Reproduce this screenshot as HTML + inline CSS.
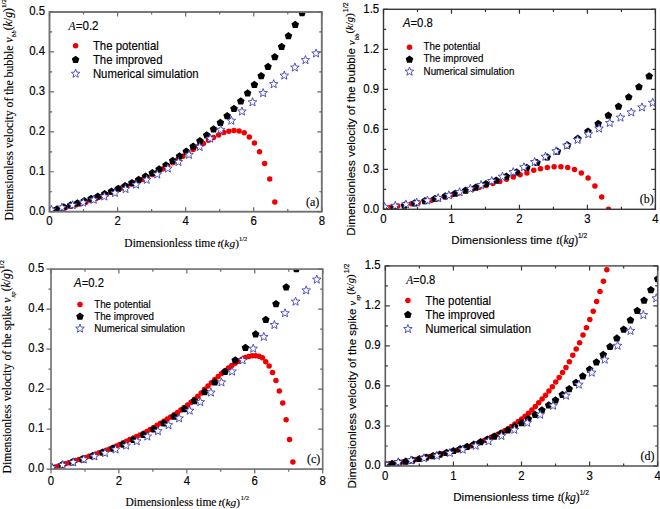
<!DOCTYPE html>
<html><head><meta charset="utf-8"><style>
html,body{margin:0;padding:0;background:#fff;width:660px;height:509px;overflow:hidden}
svg{display:block}
text{stroke:#000;stroke-width:0.15px;paint-order:stroke}
</style></head><body>
<svg width="660" height="509" viewBox="0 0 660 509">
<rect width="660" height="509" fill="#fff"/>
<clipPath id="clipa"><rect x="49.50" y="12.00" width="272.30" height="199.70"/></clipPath>
<g clip-path="url(#clipa)">
<circle cx="50.18" cy="210.40" r="2.75" fill="#f00000"/>
<circle cx="55.29" cy="209.59" r="2.75" fill="#f00000"/>
<circle cx="60.39" cy="208.63" r="2.75" fill="#f00000"/>
<circle cx="65.50" cy="207.54" r="2.75" fill="#f00000"/>
<circle cx="70.60" cy="206.35" r="2.75" fill="#f00000"/>
<circle cx="75.71" cy="205.05" r="2.75" fill="#f00000"/>
<circle cx="80.81" cy="203.68" r="2.75" fill="#f00000"/>
<circle cx="85.92" cy="202.21" r="2.75" fill="#f00000"/>
<circle cx="91.03" cy="200.52" r="2.75" fill="#f00000"/>
<circle cx="96.13" cy="198.62" r="2.75" fill="#f00000"/>
<circle cx="101.24" cy="196.58" r="2.75" fill="#f00000"/>
<circle cx="106.34" cy="194.45" r="2.75" fill="#f00000"/>
<circle cx="111.45" cy="192.29" r="2.75" fill="#f00000"/>
<circle cx="116.55" cy="190.15" r="2.75" fill="#f00000"/>
<circle cx="121.66" cy="188.07" r="2.75" fill="#f00000"/>
<circle cx="126.77" cy="185.99" r="2.75" fill="#f00000"/>
<circle cx="131.87" cy="183.89" r="2.75" fill="#f00000"/>
<circle cx="136.98" cy="181.73" r="2.75" fill="#f00000"/>
<circle cx="142.08" cy="179.49" r="2.75" fill="#f00000"/>
<circle cx="147.19" cy="177.13" r="2.75" fill="#f00000"/>
<circle cx="152.29" cy="174.61" r="2.75" fill="#f00000"/>
<circle cx="157.40" cy="171.88" r="2.75" fill="#f00000"/>
<circle cx="162.50" cy="168.95" r="2.75" fill="#f00000"/>
<circle cx="167.61" cy="165.86" r="2.75" fill="#f00000"/>
<circle cx="172.72" cy="162.67" r="2.75" fill="#f00000"/>
<circle cx="177.82" cy="159.43" r="2.75" fill="#f00000"/>
<circle cx="182.93" cy="156.18" r="2.75" fill="#f00000"/>
<circle cx="188.03" cy="152.82" r="2.75" fill="#f00000"/>
<circle cx="193.14" cy="149.53" r="2.75" fill="#f00000"/>
<circle cx="198.24" cy="146.43" r="2.75" fill="#f00000"/>
<circle cx="203.35" cy="143.39" r="2.75" fill="#f00000"/>
<circle cx="208.46" cy="140.29" r="2.75" fill="#f00000"/>
<circle cx="213.56" cy="137.41" r="2.75" fill="#f00000"/>
<circle cx="218.67" cy="135.02" r="2.75" fill="#f00000"/>
<circle cx="223.77" cy="132.62" r="2.75" fill="#f00000"/>
<circle cx="228.88" cy="131.22" r="2.75" fill="#f00000"/>
<circle cx="233.98" cy="130.42" r="2.75" fill="#f00000"/>
<circle cx="239.09" cy="131.07" r="2.75" fill="#f00000"/>
<circle cx="244.19" cy="132.85" r="2.75" fill="#f00000"/>
<circle cx="249.30" cy="137.01" r="2.75" fill="#f00000"/>
<circle cx="254.41" cy="143.08" r="2.75" fill="#f00000"/>
<circle cx="259.51" cy="151.79" r="2.75" fill="#f00000"/>
<circle cx="264.62" cy="163.53" r="2.75" fill="#f00000"/>
<circle cx="269.72" cy="178.91" r="2.75" fill="#f00000"/>
<circle cx="274.83" cy="202.11" r="2.75" fill="#f00000"/>
<polygon points="50.18,207.36 53.98,210.12 52.53,214.60 47.83,214.60 46.38,210.12" fill="#000"/>
<polygon points="56.99,205.36 60.79,208.13 59.34,212.60 54.64,212.60 53.18,208.13" fill="#000"/>
<polygon points="63.80,203.35 67.60,206.11 66.15,210.58 61.44,210.58 59.99,206.11" fill="#000"/>
<polygon points="70.60,201.30 74.41,204.06 72.95,208.53 68.25,208.53 66.80,204.06" fill="#000"/>
<polygon points="77.41,199.20 81.21,201.97 79.76,206.44 75.06,206.44 73.61,201.97" fill="#000"/>
<polygon points="84.22,197.05 88.02,199.81 86.57,204.28 81.87,204.28 80.41,199.81" fill="#000"/>
<polygon points="91.03,194.82 94.83,197.58 93.38,202.05 88.67,202.05 87.22,197.58" fill="#000"/>
<polygon points="97.83,192.50 101.64,195.26 100.18,199.73 95.48,199.73 94.03,195.26" fill="#000"/>
<polygon points="104.64,190.07 108.44,192.83 106.99,197.30 102.29,197.30 100.84,192.83" fill="#000"/>
<polygon points="111.45,187.52 115.25,190.29 113.80,194.76 109.10,194.76 107.64,190.29" fill="#000"/>
<polygon points="118.26,184.84 122.06,187.61 120.61,192.08 115.90,192.08 114.45,187.61" fill="#000"/>
<polygon points="125.06,182.02 128.87,184.78 127.41,189.25 122.71,189.25 121.26,184.78" fill="#000"/>
<polygon points="131.87,179.03 135.67,181.79 134.22,186.26 129.52,186.26 128.07,181.79" fill="#000"/>
<polygon points="138.68,175.86 142.48,178.62 141.03,183.10 136.33,183.10 134.87,178.62" fill="#000"/>
<polygon points="145.49,172.50 149.29,175.26 147.84,179.74 143.13,179.74 141.68,175.26" fill="#000"/>
<polygon points="152.29,168.94 156.10,171.70 154.64,176.17 149.94,176.17 148.49,171.70" fill="#000"/>
<polygon points="159.10,165.15 162.90,167.91 161.45,172.39 156.75,172.39 155.30,167.91" fill="#000"/>
<polygon points="165.91,161.13 169.71,163.89 168.26,168.36 163.56,168.36 162.10,163.89" fill="#000"/>
<polygon points="172.72,156.86 176.52,159.62 175.07,164.09 170.36,164.09 168.91,159.62" fill="#000"/>
<polygon points="179.52,152.32 183.33,155.09 181.87,159.56 177.17,159.56 175.72,155.09" fill="#000"/>
<polygon points="186.33,147.51 190.13,150.27 188.68,154.74 183.98,154.74 182.53,150.27" fill="#000"/>
<polygon points="193.14,142.40 196.94,145.16 195.49,149.64 190.79,149.64 189.33,145.16" fill="#000"/>
<polygon points="199.95,136.98 203.75,139.75 202.30,144.22 197.59,144.22 196.14,139.75" fill="#000"/>
<polygon points="206.75,131.25 210.56,134.01 209.10,138.48 204.40,138.48 202.95,134.01" fill="#000"/>
<polygon points="213.56,125.17 217.36,127.94 215.91,132.41 211.21,132.41 209.76,127.94" fill="#000"/>
<polygon points="220.37,118.75 224.17,121.51 222.72,125.98 218.02,125.98 216.56,121.51" fill="#000"/>
<polygon points="227.18,111.96 230.98,114.72 229.53,119.19 224.82,119.19 223.37,114.72" fill="#000"/>
<polygon points="233.98,104.78 237.79,107.55 236.33,112.02 231.63,112.02 230.18,107.55" fill="#000"/>
<polygon points="240.79,97.22 244.59,99.98 243.14,104.45 238.44,104.45 236.99,99.98" fill="#000"/>
<polygon points="247.60,89.24 251.40,92.00 249.95,96.48 245.25,96.48 243.79,92.00" fill="#000"/>
<polygon points="254.41,80.84 258.21,83.60 256.76,88.08 252.05,88.08 250.60,83.60" fill="#000"/>
<polygon points="261.21,72.00 265.02,74.77 263.56,79.24 258.86,79.24 257.41,74.77" fill="#000"/>
<polygon points="268.02,62.71 271.82,65.47 270.37,69.95 265.67,69.95 264.22,65.47" fill="#000"/>
<polygon points="274.83,52.95 278.63,55.72 277.18,60.19 272.48,60.19 271.02,55.72" fill="#000"/>
<polygon points="281.64,42.71 285.44,45.47 283.99,49.95 279.28,49.95 277.83,45.47" fill="#000"/>
<polygon points="288.44,31.97 292.25,34.74 290.79,39.21 286.09,39.21 284.64,34.74" fill="#000"/>
<polygon points="295.25,20.73 299.05,23.49 297.60,27.96 292.90,27.96 291.45,23.49" fill="#000"/>
<polygon points="302.06,8.95 305.86,11.72 304.41,16.19 299.71,16.19 298.25,11.72" fill="#000"/>
<polygon points="51.41,205.28 52.55,208.20 55.69,208.39 53.26,210.38 54.05,213.42 51.41,211.73 48.76,213.42 49.55,210.38 47.13,208.39 50.26,208.20" fill="#fff" stroke="#3838b8" stroke-width="0.85" stroke-linejoin="miter"/>
<polygon points="61.99,203.09 63.14,206.01 66.27,206.20 63.85,208.19 64.64,211.23 61.99,209.54 59.35,211.23 60.14,208.19 57.71,206.20 60.85,206.01" fill="#fff" stroke="#3838b8" stroke-width="0.85" stroke-linejoin="miter"/>
<polygon points="72.58,200.72 73.72,203.64 76.86,203.82 74.43,205.82 75.22,208.86 72.58,207.17 69.93,208.86 70.72,205.82 68.30,203.82 71.43,203.64" fill="#fff" stroke="#3838b8" stroke-width="0.85" stroke-linejoin="miter"/>
<polygon points="83.16,198.11 84.31,201.03 87.44,201.22 85.02,203.21 85.81,206.25 83.16,204.56 80.52,206.25 81.31,203.21 78.88,201.22 82.02,201.03" fill="#fff" stroke="#3838b8" stroke-width="0.85" stroke-linejoin="miter"/>
<polygon points="93.75,195.23 94.89,198.15 98.03,198.34 95.60,200.33 96.39,203.37 93.75,201.68 91.10,203.37 91.89,200.33 89.47,198.34 92.60,198.15" fill="#fff" stroke="#3838b8" stroke-width="0.85" stroke-linejoin="miter"/>
<polygon points="104.33,192.03 105.48,194.96 108.61,195.14 106.19,197.14 106.98,200.17 104.33,198.48 101.69,200.17 102.48,197.14 100.05,195.14 103.19,194.96" fill="#fff" stroke="#3838b8" stroke-width="0.85" stroke-linejoin="miter"/>
<polygon points="114.92,188.49 116.07,191.41 119.20,191.59 116.77,193.59 117.57,196.63 114.92,194.94 112.28,196.63 113.07,193.59 110.64,191.59 113.77,191.41" fill="#fff" stroke="#3838b8" stroke-width="0.85" stroke-linejoin="miter"/>
<polygon points="125.51,184.54 126.65,187.47 129.79,187.65 127.36,189.65 128.15,192.68 125.51,190.99 122.86,192.68 123.65,189.65 121.23,187.65 124.36,187.47" fill="#fff" stroke="#3838b8" stroke-width="0.85" stroke-linejoin="miter"/>
<polygon points="136.09,180.16 137.24,183.09 140.37,183.27 137.95,185.27 138.74,188.30 136.09,186.61 133.45,188.30 134.24,185.27 131.81,183.27 134.95,183.09" fill="#fff" stroke="#3838b8" stroke-width="0.85" stroke-linejoin="miter"/>
<polygon points="146.68,175.31 147.82,178.23 150.96,178.42 148.53,180.41 149.32,183.45 146.68,181.76 144.03,183.45 144.82,180.41 142.40,178.42 145.53,178.23" fill="#fff" stroke="#3838b8" stroke-width="0.85" stroke-linejoin="miter"/>
<polygon points="157.26,169.94 158.41,172.86 161.54,173.05 159.12,175.04 159.91,178.08 157.26,176.39 154.62,178.08 155.41,175.04 152.98,173.05 156.12,172.86" fill="#fff" stroke="#3838b8" stroke-width="0.85" stroke-linejoin="miter"/>
<polygon points="167.85,164.00 168.99,166.93 172.13,167.11 169.70,169.11 170.49,172.15 167.85,170.45 165.20,172.15 165.99,169.11 163.57,167.11 166.70,166.93" fill="#fff" stroke="#3838b8" stroke-width="0.85" stroke-linejoin="miter"/>
<polygon points="178.43,157.47 179.58,160.40 182.71,160.58 180.29,162.58 181.08,165.61 178.43,163.92 175.79,165.61 176.58,162.58 174.15,160.58 177.29,160.40" fill="#fff" stroke="#3838b8" stroke-width="0.85" stroke-linejoin="miter"/>
<polygon points="189.02,150.30 190.17,153.22 193.30,153.41 190.87,155.40 191.66,158.44 189.02,156.75 186.37,158.44 187.17,155.40 184.74,153.41 187.87,153.22" fill="#fff" stroke="#3838b8" stroke-width="0.85" stroke-linejoin="miter"/>
<polygon points="199.61,142.48 200.75,145.40 203.89,145.59 201.46,147.58 202.25,150.62 199.61,148.93 196.96,150.62 197.75,147.58 195.33,145.59 198.46,145.40" fill="#fff" stroke="#3838b8" stroke-width="0.85" stroke-linejoin="miter"/>
<polygon points="210.19,134.10 211.34,137.02 214.47,137.21 212.05,139.20 212.84,142.24 210.19,140.55 207.55,142.24 208.34,139.20 205.91,137.21 209.04,137.02" fill="#fff" stroke="#3838b8" stroke-width="0.85" stroke-linejoin="miter"/>
<polygon points="220.78,125.31 221.92,128.23 225.06,128.42 222.63,130.41 223.42,133.45 220.78,131.76 218.13,133.45 218.92,130.41 216.50,128.42 219.63,128.23" fill="#fff" stroke="#3838b8" stroke-width="0.85" stroke-linejoin="miter"/>
<polygon points="231.36,116.22 232.51,119.15 235.64,119.33 233.22,121.33 234.01,124.36 231.36,122.67 228.72,124.36 229.51,121.33 227.08,119.33 230.22,119.15" fill="#fff" stroke="#3838b8" stroke-width="0.85" stroke-linejoin="miter"/>
<polygon points="241.95,106.98 243.09,109.91 246.23,110.09 243.80,112.09 244.59,115.13 241.95,113.43 239.30,115.13 240.09,112.09 237.67,110.09 240.80,109.91" fill="#fff" stroke="#3838b8" stroke-width="0.85" stroke-linejoin="miter"/>
<polygon points="252.53,97.72 253.68,100.64 256.81,100.83 254.39,102.82 255.18,105.86 252.53,104.17 249.89,105.86 250.68,102.82 248.25,100.83 251.39,100.64" fill="#fff" stroke="#3838b8" stroke-width="0.85" stroke-linejoin="miter"/>
<polygon points="263.12,88.56 264.27,91.48 267.40,91.67 264.97,93.66 265.76,96.70 263.12,95.01 260.47,96.70 261.26,93.66 258.84,91.67 261.97,91.48" fill="#fff" stroke="#3838b8" stroke-width="0.85" stroke-linejoin="miter"/>
<polygon points="273.71,79.64 274.85,82.56 277.98,82.75 275.56,84.74 276.35,87.78 273.71,86.09 271.06,87.78 271.85,84.74 269.43,82.75 272.56,82.56" fill="#fff" stroke="#3838b8" stroke-width="0.85" stroke-linejoin="miter"/>
<polygon points="284.29,71.08 285.44,74.01 288.57,74.19 286.15,76.19 286.94,79.22 284.29,77.53 281.65,79.22 282.44,76.19 280.01,74.19 283.14,74.01" fill="#fff" stroke="#3838b8" stroke-width="0.85" stroke-linejoin="miter"/>
<polygon points="294.88,63.03 296.02,65.95 299.16,66.14 296.73,68.13 297.52,71.17 294.88,69.48 292.23,71.17 293.02,68.13 290.60,66.14 293.73,65.95" fill="#fff" stroke="#3838b8" stroke-width="0.85" stroke-linejoin="miter"/>
<polygon points="305.46,55.60 306.61,58.53 309.74,58.71 307.32,60.71 308.11,63.75 305.46,62.05 302.82,63.75 303.61,60.71 301.18,58.71 304.32,58.53" fill="#fff" stroke="#3838b8" stroke-width="0.85" stroke-linejoin="miter"/>
<polygon points="316.05,48.94 317.19,51.87 320.33,52.05 317.90,54.05 318.69,57.08 316.05,55.39 313.40,57.08 314.19,54.05 311.77,52.05 314.90,51.87" fill="#fff" stroke="#3838b8" stroke-width="0.85" stroke-linejoin="miter"/>
</g>
<rect x="49.50" y="12.00" width="272.30" height="199.70" fill="none" stroke="#727272" stroke-width="1.90"/>
<path d="M49.50 211.70L49.50 207.20 M49.50 12.00L49.50 16.50 M83.54 211.70L83.54 209.10 M83.54 12.00L83.54 14.60 M117.58 211.70L117.58 207.20 M117.58 12.00L117.58 16.50 M151.61 211.70L151.61 209.10 M151.61 12.00L151.61 14.60 M185.65 211.70L185.65 207.20 M185.65 12.00L185.65 16.50 M219.69 211.70L219.69 209.10 M219.69 12.00L219.69 14.60 M253.73 211.70L253.73 207.20 M253.73 12.00L253.73 16.50 M287.76 211.70L287.76 209.10 M287.76 12.00L287.76 14.60 M321.80 211.70L321.80 207.20 M321.80 12.00L321.80 16.50 M49.50 211.70L54.00 211.70 M321.80 211.70L317.30 211.70 M49.50 191.73L52.10 191.73 M321.80 191.73L319.20 191.73 M49.50 171.76L54.00 171.76 M321.80 171.76L317.30 171.76 M49.50 151.79L52.10 151.79 M321.80 151.79L319.20 151.79 M49.50 131.82L54.00 131.82 M321.80 131.82L317.30 131.82 M49.50 111.85L52.10 111.85 M321.80 111.85L319.20 111.85 M49.50 91.88L54.00 91.88 M321.80 91.88L317.30 91.88 M49.50 71.91L52.10 71.91 M321.80 71.91L319.20 71.91 M49.50 51.94L54.00 51.94 M321.80 51.94L317.30 51.94 M49.50 31.97L52.10 31.97 M321.80 31.97L319.20 31.97 M49.50 12.00L54.00 12.00 M321.80 12.00L317.30 12.00" stroke="#686868" stroke-width="1.20" fill="none"/>
<clipPath id="clipb"><rect x="383.50" y="9.30" width="271.90" height="200.00"/></clipPath>
<g clip-path="url(#clipb)">
<circle cx="384.18" cy="209.11" r="2.75" fill="#f00000"/>
<circle cx="390.98" cy="207.35" r="2.75" fill="#f00000"/>
<circle cx="397.77" cy="206.03" r="2.75" fill="#f00000"/>
<circle cx="404.57" cy="204.87" r="2.75" fill="#f00000"/>
<circle cx="411.37" cy="203.74" r="2.75" fill="#f00000"/>
<circle cx="418.17" cy="202.68" r="2.75" fill="#f00000"/>
<circle cx="424.96" cy="201.62" r="2.75" fill="#f00000"/>
<circle cx="431.76" cy="200.36" r="2.75" fill="#f00000"/>
<circle cx="438.56" cy="198.68" r="2.75" fill="#f00000"/>
<circle cx="445.36" cy="196.72" r="2.75" fill="#f00000"/>
<circle cx="452.15" cy="194.74" r="2.75" fill="#f00000"/>
<circle cx="458.95" cy="192.90" r="2.75" fill="#f00000"/>
<circle cx="465.75" cy="191.07" r="2.75" fill="#f00000"/>
<circle cx="472.55" cy="189.22" r="2.75" fill="#f00000"/>
<circle cx="479.34" cy="187.37" r="2.75" fill="#f00000"/>
<circle cx="486.14" cy="185.52" r="2.75" fill="#f00000"/>
<circle cx="492.94" cy="183.61" r="2.75" fill="#f00000"/>
<circle cx="499.74" cy="181.57" r="2.75" fill="#f00000"/>
<circle cx="506.53" cy="179.24" r="2.75" fill="#f00000"/>
<circle cx="513.33" cy="176.88" r="2.75" fill="#f00000"/>
<circle cx="520.13" cy="174.77" r="2.75" fill="#f00000"/>
<circle cx="526.93" cy="172.97" r="2.75" fill="#f00000"/>
<circle cx="533.72" cy="170.37" r="2.75" fill="#f00000"/>
<circle cx="540.52" cy="168.77" r="2.75" fill="#f00000"/>
<circle cx="547.32" cy="167.48" r="2.75" fill="#f00000"/>
<circle cx="554.12" cy="166.77" r="2.75" fill="#f00000"/>
<circle cx="560.91" cy="166.84" r="2.75" fill="#f00000"/>
<circle cx="567.71" cy="167.53" r="2.75" fill="#f00000"/>
<circle cx="574.51" cy="169.50" r="2.75" fill="#f00000"/>
<circle cx="581.31" cy="172.93" r="2.75" fill="#f00000"/>
<circle cx="588.10" cy="178.11" r="2.75" fill="#f00000"/>
<circle cx="594.90" cy="185.90" r="2.75" fill="#f00000"/>
<circle cx="601.70" cy="197.00" r="2.75" fill="#f00000"/>
<circle cx="608.50" cy="209.30" r="2.75" fill="#f00000"/>
<polygon points="384.04,205.62 387.85,208.38 386.39,212.85 381.69,212.85 380.24,208.38" fill="#000"/>
<polygon points="394.24,203.57 398.04,206.33 396.59,210.80 391.89,210.80 390.44,206.33" fill="#000"/>
<polygon points="404.44,201.47 408.24,204.24 406.79,208.71 402.09,208.71 400.63,204.24" fill="#000"/>
<polygon points="414.63,199.31 418.44,202.07 416.98,206.54 412.28,206.54 410.83,202.07" fill="#000"/>
<polygon points="424.83,197.05 428.63,199.81 427.18,204.28 422.48,204.28 421.02,199.81" fill="#000"/>
<polygon points="435.03,194.67 438.83,197.43 437.38,201.90 432.67,201.90 431.22,197.43" fill="#000"/>
<polygon points="445.22,192.14 449.03,194.90 447.57,199.38 442.87,199.38 441.42,194.90" fill="#000"/>
<polygon points="455.42,189.44 459.22,192.21 457.77,196.68 453.07,196.68 451.61,192.21" fill="#000"/>
<polygon points="465.61,186.55 469.42,189.31 467.96,193.79 463.26,193.79 461.81,189.31" fill="#000"/>
<polygon points="475.81,183.44 479.61,186.20 478.16,190.67 473.46,190.67 472.01,186.20" fill="#000"/>
<polygon points="486.01,180.08 489.81,182.84 488.36,187.31 483.66,187.31 482.20,182.84" fill="#000"/>
<polygon points="496.20,176.45 500.01,179.21 498.55,183.68 493.85,183.68 492.40,179.21" fill="#000"/>
<polygon points="506.40,172.52 510.20,175.28 508.75,179.75 504.05,179.75 502.59,175.28" fill="#000"/>
<polygon points="516.60,168.27 520.40,171.03 518.95,175.51 514.24,175.51 512.79,171.03" fill="#000"/>
<polygon points="526.79,163.67 530.60,166.44 529.14,170.91 524.44,170.91 522.99,166.44" fill="#000"/>
<polygon points="536.99,158.71 540.79,161.47 539.34,165.94 534.64,165.94 533.18,161.47" fill="#000"/>
<polygon points="547.18,153.34 550.99,156.11 549.53,160.58 544.83,160.58 543.38,156.11" fill="#000"/>
<polygon points="557.38,147.56 561.18,150.32 559.73,154.79 555.03,154.79 553.58,150.32" fill="#000"/>
<polygon points="567.58,141.32 571.38,144.09 569.93,148.56 565.23,148.56 563.77,144.09" fill="#000"/>
<polygon points="577.77,134.62 581.58,137.38 580.12,141.86 575.42,141.86 573.97,137.38" fill="#000"/>
<polygon points="587.97,127.42 591.77,130.18 590.32,134.65 585.62,134.65 584.16,130.18" fill="#000"/>
<polygon points="598.17,119.69 601.97,122.46 600.52,126.93 595.81,126.93 594.36,122.46" fill="#000"/>
<polygon points="608.36,111.42 612.17,114.18 610.71,118.66 606.01,118.66 604.56,114.18" fill="#000"/>
<polygon points="618.56,102.57 622.36,105.34 620.91,109.81 616.21,109.81 614.75,105.34" fill="#000"/>
<polygon points="628.75,93.13 632.56,95.90 631.10,100.37 626.40,100.37 624.95,95.90" fill="#000"/>
<polygon points="638.95,83.07 642.75,85.83 641.30,90.30 636.60,90.30 635.15,85.83" fill="#000"/>
<polygon points="649.15,72.35 652.95,75.12 651.50,79.59 646.80,79.59 645.34,75.12" fill="#000"/>
<polygon points="384.52,202.32 385.67,205.24 388.80,205.43 386.37,207.42 387.16,210.46 384.52,208.77 381.87,210.46 382.67,207.42 380.24,205.43 383.37,205.24" fill="#fff" stroke="#3838b8" stroke-width="0.85" stroke-linejoin="miter"/>
<polygon points="395.25,201.28 396.39,204.21 399.53,204.39 397.10,206.39 397.89,209.42 395.25,207.73 392.60,209.42 393.39,206.39 390.97,204.39 394.10,204.21" fill="#fff" stroke="#3838b8" stroke-width="0.85" stroke-linejoin="miter"/>
<polygon points="405.97,199.89 407.12,202.81 410.25,202.99 407.83,204.99 408.62,208.03 405.97,206.34 403.33,208.03 404.12,204.99 401.69,202.99 404.83,202.81" fill="#fff" stroke="#3838b8" stroke-width="0.85" stroke-linejoin="miter"/>
<polygon points="416.70,198.13 417.85,201.05 420.98,201.24 418.55,203.23 419.34,206.27 416.70,204.58 414.05,206.27 414.84,203.23 412.42,201.24 415.55,201.05" fill="#fff" stroke="#3838b8" stroke-width="0.85" stroke-linejoin="miter"/>
<polygon points="427.43,196.02 428.57,198.95 431.71,199.13 429.28,201.13 430.07,204.16 427.43,202.47 424.78,204.16 425.57,201.13 423.15,199.13 426.28,198.95" fill="#fff" stroke="#3838b8" stroke-width="0.85" stroke-linejoin="miter"/>
<polygon points="438.15,193.58 439.30,196.50 442.43,196.69 440.01,198.68 440.80,201.72 438.15,200.03 435.51,201.72 436.30,198.68 433.87,196.69 437.01,196.50" fill="#fff" stroke="#3838b8" stroke-width="0.85" stroke-linejoin="miter"/>
<polygon points="448.88,190.80 450.02,193.72 453.16,193.90 450.73,195.90 451.52,198.94 448.88,197.25 446.23,198.94 447.02,195.90 444.60,193.90 447.73,193.72" fill="#fff" stroke="#3838b8" stroke-width="0.85" stroke-linejoin="miter"/>
<polygon points="459.60,187.69 460.75,190.61 463.88,190.80 461.46,192.79 462.25,195.83 459.60,194.14 456.96,195.83 457.75,192.79 455.33,190.80 458.46,190.61" fill="#fff" stroke="#3838b8" stroke-width="0.85" stroke-linejoin="miter"/>
<polygon points="470.33,184.27 471.48,187.19 474.61,187.38 472.19,189.37 472.98,192.41 470.33,190.72 467.69,192.41 468.48,189.37 466.05,187.38 469.19,187.19" fill="#fff" stroke="#3838b8" stroke-width="0.85" stroke-linejoin="miter"/>
<polygon points="481.06,180.54 482.20,183.46 485.34,183.65 482.91,185.64 483.70,188.68 481.06,186.99 478.41,188.68 479.20,185.64 476.78,183.65 479.91,183.46" fill="#fff" stroke="#3838b8" stroke-width="0.85" stroke-linejoin="miter"/>
<polygon points="491.78,176.51 492.93,179.43 496.06,179.62 493.64,181.61 494.43,184.65 491.78,182.96 489.14,184.65 489.93,181.61 487.50,179.62 490.64,179.43" fill="#fff" stroke="#3838b8" stroke-width="0.85" stroke-linejoin="miter"/>
<polygon points="502.51,172.19 503.66,175.11 506.79,175.29 504.37,177.29 505.16,180.33 502.51,178.64 499.87,180.33 500.66,177.29 498.23,175.29 501.36,175.11" fill="#fff" stroke="#3838b8" stroke-width="0.85" stroke-linejoin="miter"/>
<polygon points="513.24,167.58 514.38,170.50 517.52,170.69 515.09,172.68 515.88,175.72 513.24,174.03 510.59,175.72 511.38,172.68 508.96,170.69 512.09,170.50" fill="#fff" stroke="#3838b8" stroke-width="0.85" stroke-linejoin="miter"/>
<polygon points="523.96,162.70 525.11,165.62 528.24,165.81 525.82,167.80 526.61,170.84 523.96,169.15 521.32,170.84 522.11,167.80 519.68,165.81 522.82,165.62" fill="#fff" stroke="#3838b8" stroke-width="0.85" stroke-linejoin="miter"/>
<polygon points="534.69,157.56 535.84,160.48 538.97,160.67 536.54,162.66 537.34,165.70 534.69,164.01 532.04,165.70 532.84,162.66 530.41,160.67 533.54,160.48" fill="#fff" stroke="#3838b8" stroke-width="0.85" stroke-linejoin="miter"/>
<polygon points="545.42,152.20 546.56,155.13 549.70,155.31 547.27,157.31 548.06,160.34 545.42,158.65 542.77,160.34 543.56,157.31 541.14,155.31 544.27,155.13" fill="#fff" stroke="#3838b8" stroke-width="0.85" stroke-linejoin="miter"/>
<polygon points="556.14,146.69 557.29,149.61 560.42,149.80 558.00,151.79 558.79,154.83 556.14,153.14 553.50,154.83 554.29,151.79 551.86,149.80 555.00,149.61" fill="#fff" stroke="#3838b8" stroke-width="0.85" stroke-linejoin="miter"/>
<polygon points="566.87,141.06 568.02,143.98 571.15,144.17 568.72,146.16 569.51,149.20 566.87,147.51 564.22,149.20 565.01,146.16 562.59,144.17 565.72,143.98" fill="#fff" stroke="#3838b8" stroke-width="0.85" stroke-linejoin="miter"/>
<polygon points="577.60,135.37 578.74,138.29 581.88,138.48 579.45,140.47 580.24,143.51 577.60,141.82 574.95,143.51 575.74,140.47 573.32,138.48 576.45,138.29" fill="#fff" stroke="#3838b8" stroke-width="0.85" stroke-linejoin="miter"/>
<polygon points="588.32,129.68 589.47,132.60 592.60,132.79 590.18,134.78 590.97,137.82 588.32,136.13 585.68,137.82 586.47,134.78 584.04,132.79 587.18,132.60" fill="#fff" stroke="#3838b8" stroke-width="0.85" stroke-linejoin="miter"/>
<polygon points="599.05,124.03 600.19,126.95 603.33,127.14 600.90,129.13 601.69,132.17 599.05,130.48 596.40,132.17 597.19,129.13 594.77,127.14 597.90,126.95" fill="#fff" stroke="#3838b8" stroke-width="0.85" stroke-linejoin="miter"/>
<polygon points="609.78,118.47 610.92,121.39 614.05,121.58 611.63,123.57 612.42,126.61 609.78,124.92 607.13,126.61 607.92,123.57 605.50,121.58 608.63,121.39" fill="#fff" stroke="#3838b8" stroke-width="0.85" stroke-linejoin="miter"/>
<polygon points="620.50,113.06 621.65,115.99 624.78,116.17 622.36,118.17 623.15,121.21 620.50,119.51 617.86,121.21 618.65,118.17 616.22,116.17 619.36,115.99" fill="#fff" stroke="#3838b8" stroke-width="0.85" stroke-linejoin="miter"/>
<polygon points="631.23,107.86 632.37,110.78 635.51,110.96 633.08,112.96 633.87,116.00 631.23,114.31 628.58,116.00 629.37,112.96 626.95,110.96 630.08,110.78" fill="#fff" stroke="#3838b8" stroke-width="0.85" stroke-linejoin="miter"/>
<polygon points="641.95,102.90 643.10,105.82 646.23,106.01 643.81,108.00 644.60,111.04 641.95,109.35 639.31,111.04 640.10,108.00 637.67,106.01 640.81,105.82" fill="#fff" stroke="#3838b8" stroke-width="0.85" stroke-linejoin="miter"/>
<polygon points="652.68,98.24 653.83,101.16 656.96,101.35 654.54,103.34 655.33,106.38 652.68,104.69 650.04,106.38 650.83,103.34 648.40,101.35 651.53,101.16" fill="#fff" stroke="#3838b8" stroke-width="0.85" stroke-linejoin="miter"/>
</g>
<rect x="383.50" y="9.30" width="271.90" height="200.00" fill="none" stroke="#383838" stroke-width="1.40"/>
<path d="M383.50 209.30L383.50 204.80 M383.50 9.30L383.50 13.80 M417.49 209.30L417.49 206.70 M417.49 9.30L417.49 11.90 M451.48 209.30L451.48 204.80 M451.48 9.30L451.48 13.80 M485.46 209.30L485.46 206.70 M485.46 9.30L485.46 11.90 M519.45 209.30L519.45 204.80 M519.45 9.30L519.45 13.80 M553.44 209.30L553.44 206.70 M553.44 9.30L553.44 11.90 M587.42 209.30L587.42 204.80 M587.42 9.30L587.42 13.80 M621.41 209.30L621.41 206.70 M621.41 9.30L621.41 11.90 M655.40 209.30L655.40 204.80 M655.40 9.30L655.40 13.80 M383.50 209.30L388.00 209.30 M655.40 209.30L650.90 209.30 M383.50 189.30L386.10 189.30 M655.40 189.30L652.80 189.30 M383.50 169.30L388.00 169.30 M655.40 169.30L650.90 169.30 M383.50 149.30L386.10 149.30 M655.40 149.30L652.80 149.30 M383.50 129.30L388.00 129.30 M655.40 129.30L650.90 129.30 M383.50 109.30L386.10 109.30 M655.40 109.30L652.80 109.30 M383.50 89.30L388.00 89.30 M655.40 89.30L650.90 89.30 M383.50 69.30L386.10 69.30 M655.40 69.30L652.80 69.30 M383.50 49.30L388.00 49.30 M655.40 49.30L650.90 49.30 M383.50 29.30L386.10 29.30 M655.40 29.30L652.80 29.30 M383.50 9.30L388.00 9.30 M655.40 9.30L650.90 9.30" stroke="#303030" stroke-width="1.20" fill="none"/>
<clipPath id="clipc"><rect x="51.00" y="269.10" width="271.70" height="200.00"/></clipPath>
<g clip-path="url(#clipc)">
<circle cx="51.78" cy="468.05" r="2.75" fill="#f00000"/>
<circle cx="55.18" cy="466.99" r="2.75" fill="#f00000"/>
<circle cx="58.57" cy="465.92" r="2.75" fill="#f00000"/>
<circle cx="61.97" cy="464.85" r="2.75" fill="#f00000"/>
<circle cx="65.37" cy="463.79" r="2.75" fill="#f00000"/>
<circle cx="68.76" cy="462.72" r="2.75" fill="#f00000"/>
<circle cx="72.16" cy="461.66" r="2.75" fill="#f00000"/>
<circle cx="75.55" cy="460.61" r="2.75" fill="#f00000"/>
<circle cx="78.95" cy="459.57" r="2.75" fill="#f00000"/>
<circle cx="82.35" cy="458.53" r="2.75" fill="#f00000"/>
<circle cx="85.74" cy="457.47" r="2.75" fill="#f00000"/>
<circle cx="89.14" cy="456.37" r="2.75" fill="#f00000"/>
<circle cx="92.54" cy="455.23" r="2.75" fill="#f00000"/>
<circle cx="95.93" cy="454.06" r="2.75" fill="#f00000"/>
<circle cx="99.33" cy="452.85" r="2.75" fill="#f00000"/>
<circle cx="102.72" cy="451.60" r="2.75" fill="#f00000"/>
<circle cx="106.12" cy="450.31" r="2.75" fill="#f00000"/>
<circle cx="109.52" cy="448.97" r="2.75" fill="#f00000"/>
<circle cx="112.91" cy="447.57" r="2.75" fill="#f00000"/>
<circle cx="116.31" cy="446.06" r="2.75" fill="#f00000"/>
<circle cx="119.71" cy="444.45" r="2.75" fill="#f00000"/>
<circle cx="123.10" cy="442.80" r="2.75" fill="#f00000"/>
<circle cx="126.50" cy="441.13" r="2.75" fill="#f00000"/>
<circle cx="129.89" cy="439.50" r="2.75" fill="#f00000"/>
<circle cx="133.29" cy="437.96" r="2.75" fill="#f00000"/>
<circle cx="136.69" cy="436.54" r="2.75" fill="#f00000"/>
<circle cx="140.08" cy="435.06" r="2.75" fill="#f00000"/>
<circle cx="143.48" cy="433.34" r="2.75" fill="#f00000"/>
<circle cx="146.88" cy="431.47" r="2.75" fill="#f00000"/>
<circle cx="150.27" cy="429.47" r="2.75" fill="#f00000"/>
<circle cx="153.67" cy="427.41" r="2.75" fill="#f00000"/>
<circle cx="157.06" cy="425.31" r="2.75" fill="#f00000"/>
<circle cx="160.46" cy="423.22" r="2.75" fill="#f00000"/>
<circle cx="163.86" cy="421.15" r="2.75" fill="#f00000"/>
<circle cx="167.25" cy="419.06" r="2.75" fill="#f00000"/>
<circle cx="170.65" cy="416.92" r="2.75" fill="#f00000"/>
<circle cx="174.05" cy="414.71" r="2.75" fill="#f00000"/>
<circle cx="177.44" cy="412.41" r="2.75" fill="#f00000"/>
<circle cx="180.84" cy="409.99" r="2.75" fill="#f00000"/>
<circle cx="184.23" cy="407.49" r="2.75" fill="#f00000"/>
<circle cx="187.63" cy="404.89" r="2.75" fill="#f00000"/>
<circle cx="191.03" cy="402.16" r="2.75" fill="#f00000"/>
<circle cx="194.42" cy="399.31" r="2.75" fill="#f00000"/>
<circle cx="197.82" cy="396.30" r="2.75" fill="#f00000"/>
<circle cx="201.22" cy="392.93" r="2.75" fill="#f00000"/>
<circle cx="204.61" cy="389.35" r="2.75" fill="#f00000"/>
<circle cx="208.01" cy="385.94" r="2.75" fill="#f00000"/>
<circle cx="211.40" cy="382.71" r="2.75" fill="#f00000"/>
<circle cx="214.80" cy="379.61" r="2.75" fill="#f00000"/>
<circle cx="218.20" cy="376.58" r="2.75" fill="#f00000"/>
<circle cx="221.59" cy="373.57" r="2.75" fill="#f00000"/>
<circle cx="224.99" cy="370.68" r="2.75" fill="#f00000"/>
<circle cx="228.39" cy="367.99" r="2.75" fill="#f00000"/>
<circle cx="231.78" cy="365.61" r="2.75" fill="#f00000"/>
<circle cx="235.18" cy="363.33" r="2.75" fill="#f00000"/>
<circle cx="238.57" cy="361.13" r="2.75" fill="#f00000"/>
<circle cx="241.97" cy="359.16" r="2.75" fill="#f00000"/>
<circle cx="245.37" cy="357.57" r="2.75" fill="#f00000"/>
<circle cx="248.76" cy="356.49" r="2.75" fill="#f00000"/>
<circle cx="252.16" cy="355.76" r="2.75" fill="#f00000"/>
<circle cx="255.56" cy="355.78" r="2.75" fill="#f00000"/>
<circle cx="258.95" cy="356.16" r="2.75" fill="#f00000"/>
<circle cx="262.35" cy="357.83" r="2.75" fill="#f00000"/>
<circle cx="265.74" cy="361.64" r="2.75" fill="#f00000"/>
<circle cx="269.14" cy="365.93" r="2.75" fill="#f00000"/>
<circle cx="272.54" cy="372.52" r="2.75" fill="#f00000"/>
<circle cx="275.93" cy="380.57" r="2.75" fill="#f00000"/>
<circle cx="279.33" cy="390.97" r="2.75" fill="#f00000"/>
<circle cx="282.73" cy="403.12" r="2.75" fill="#f00000"/>
<circle cx="286.12" cy="419.72" r="2.75" fill="#f00000"/>
<circle cx="289.52" cy="439.56" r="2.75" fill="#f00000"/>
<circle cx="292.91" cy="462.10" r="2.75" fill="#f00000"/>
<polygon points="51.85,463.83 55.65,466.60 54.20,471.07 49.50,471.07 48.04,466.60" fill="#000"/>
<polygon points="62.04,461.06 65.84,463.82 64.39,468.29 59.69,468.29 58.23,463.82" fill="#000"/>
<polygon points="72.23,458.18 76.03,460.94 74.58,465.42 69.88,465.42 68.42,460.94" fill="#000"/>
<polygon points="82.42,455.15 86.22,457.91 84.77,462.38 80.06,462.38 78.61,457.91" fill="#000"/>
<polygon points="92.60,451.91 96.41,454.67 94.96,459.14 90.25,459.14 88.80,454.67" fill="#000"/>
<polygon points="102.79,448.41 106.60,451.18 105.14,455.65 100.44,455.65 98.99,451.18" fill="#000"/>
<polygon points="112.98,444.61 116.79,447.37 115.33,451.85 110.63,451.85 109.18,447.37" fill="#000"/>
<polygon points="123.17,440.45 126.97,443.21 125.52,447.68 120.82,447.68 119.37,443.21" fill="#000"/>
<polygon points="133.36,435.88 137.16,438.64 135.71,443.11 131.01,443.11 129.55,438.64" fill="#000"/>
<polygon points="143.55,430.84 147.35,433.61 145.90,438.08 141.20,438.08 139.74,433.61" fill="#000"/>
<polygon points="153.74,425.29 157.54,428.06 156.09,432.53 151.39,432.53 149.93,428.06" fill="#000"/>
<polygon points="163.93,419.18 167.73,421.95 166.28,426.42 161.57,426.42 160.12,421.95" fill="#000"/>
<polygon points="174.11,412.46 177.92,415.22 176.47,419.69 171.76,419.69 170.31,415.22" fill="#000"/>
<polygon points="184.30,405.06 188.11,407.83 186.65,412.30 181.95,412.30 180.50,407.83" fill="#000"/>
<polygon points="194.49,396.95 198.30,399.71 196.84,404.19 192.14,404.19 190.69,399.71" fill="#000"/>
<polygon points="204.68,388.07 208.48,390.83 207.03,395.30 202.33,395.30 200.88,390.83" fill="#000"/>
<polygon points="214.87,378.37 218.67,381.13 217.22,385.60 212.52,385.60 211.06,381.13" fill="#000"/>
<polygon points="225.06,367.79 228.86,370.56 227.41,375.03 222.71,375.03 221.25,370.56" fill="#000"/>
<polygon points="235.25,356.29 239.05,359.06 237.60,363.53 232.90,363.53 231.44,359.06" fill="#000"/>
<polygon points="245.44,343.82 249.24,346.59 247.79,351.06 243.08,351.06 241.63,346.59" fill="#000"/>
<polygon points="255.62,330.32 259.43,333.09 257.98,337.56 253.27,337.56 251.82,333.09" fill="#000"/>
<polygon points="265.81,315.75 269.62,318.51 268.16,322.99 263.46,322.99 262.01,318.51" fill="#000"/>
<polygon points="276.00,300.05 279.81,302.81 278.35,307.28 273.65,307.28 272.20,302.81" fill="#000"/>
<polygon points="286.19,283.16 289.99,285.93 288.54,290.40 283.84,290.40 282.39,285.93" fill="#000"/>
<polygon points="296.38,265.05 300.18,267.81 298.73,272.29 294.03,272.29 292.57,267.81" fill="#000"/>
<polygon points="52.02,463.10 53.17,466.02 56.30,466.20 53.87,468.20 54.66,471.24 52.02,469.55 49.37,471.24 50.16,468.20 47.74,466.20 50.87,466.02" fill="#fff" stroke="#3838b8" stroke-width="0.85" stroke-linejoin="miter"/>
<polygon points="62.61,460.49 63.75,463.41 66.89,463.60 64.46,465.59 65.25,468.63 62.61,466.94 59.96,468.63 60.75,465.59 58.33,463.60 61.46,463.41" fill="#fff" stroke="#3838b8" stroke-width="0.85" stroke-linejoin="miter"/>
<polygon points="73.20,457.78 74.34,460.70 77.48,460.89 75.05,462.88 75.84,465.92 73.20,464.23 70.55,465.92 71.34,462.88 68.92,460.89 72.05,460.70" fill="#fff" stroke="#3838b8" stroke-width="0.85" stroke-linejoin="miter"/>
<polygon points="83.79,454.92 84.93,457.84 88.07,458.03 85.64,460.02 86.43,463.06 83.79,461.37 81.14,463.06 81.93,460.02 79.51,458.03 82.64,457.84" fill="#fff" stroke="#3838b8" stroke-width="0.85" stroke-linejoin="miter"/>
<polygon points="94.38,451.86 95.52,454.78 98.66,454.97 96.23,456.96 97.02,460.00 94.38,458.31 91.73,460.00 92.52,456.96 90.10,454.97 93.23,454.78" fill="#fff" stroke="#3838b8" stroke-width="0.85" stroke-linejoin="miter"/>
<polygon points="104.97,448.56 106.11,451.49 109.25,451.67 106.82,453.67 107.61,456.70 104.97,455.01 102.32,456.70 103.11,453.67 100.69,451.67 103.82,451.49" fill="#fff" stroke="#3838b8" stroke-width="0.85" stroke-linejoin="miter"/>
<polygon points="115.56,444.98 116.70,447.90 119.84,448.09 117.41,450.09 118.20,453.12 115.56,451.43 112.91,453.12 113.70,450.09 111.28,448.09 114.41,447.90" fill="#fff" stroke="#3838b8" stroke-width="0.85" stroke-linejoin="miter"/>
<polygon points="126.15,441.07 127.29,444.00 130.43,444.18 128.00,446.18 128.79,449.21 126.15,447.52 123.50,449.21 124.29,446.18 121.87,444.18 125.00,444.00" fill="#fff" stroke="#3838b8" stroke-width="0.85" stroke-linejoin="miter"/>
<polygon points="136.73,436.78 137.88,439.70 141.01,439.89 138.59,441.88 139.38,444.92 136.73,443.23 134.09,444.92 134.88,441.88 132.46,439.89 135.59,439.70" fill="#fff" stroke="#3838b8" stroke-width="0.85" stroke-linejoin="miter"/>
<polygon points="147.32,432.02 148.47,434.94 151.60,435.12 149.18,437.12 149.97,440.16 147.32,438.47 144.68,440.16 145.47,437.12 143.04,435.12 146.18,434.94" fill="#fff" stroke="#3838b8" stroke-width="0.85" stroke-linejoin="miter"/>
<polygon points="157.91,426.67 159.06,429.60 162.19,429.78 159.77,431.78 160.56,434.81 157.91,433.12 155.27,434.81 156.06,431.78 153.63,429.78 156.77,429.60" fill="#fff" stroke="#3838b8" stroke-width="0.85" stroke-linejoin="miter"/>
<polygon points="168.50,420.65 169.65,423.57 172.78,423.76 170.36,425.75 171.15,428.79 168.50,427.10 165.86,428.79 166.65,425.75 164.22,423.76 167.36,423.57" fill="#fff" stroke="#3838b8" stroke-width="0.85" stroke-linejoin="miter"/>
<polygon points="179.09,413.85 180.24,416.78 183.37,416.96 180.95,418.96 181.74,421.99 179.09,420.30 176.45,421.99 177.24,418.96 174.81,416.96 177.95,416.78" fill="#fff" stroke="#3838b8" stroke-width="0.85" stroke-linejoin="miter"/>
<polygon points="189.68,406.18 190.83,409.10 193.96,409.28 191.54,411.28 192.33,414.32 189.68,412.63 187.04,414.32 187.83,411.28 185.40,409.28 188.54,409.10" fill="#fff" stroke="#3838b8" stroke-width="0.85" stroke-linejoin="miter"/>
<polygon points="200.27,397.55 201.42,400.47 204.55,400.66 202.13,402.65 202.92,405.69 200.27,404.00 197.63,405.69 198.42,402.65 195.99,400.66 199.13,400.47" fill="#fff" stroke="#3838b8" stroke-width="0.85" stroke-linejoin="miter"/>
<polygon points="210.86,388.06 212.01,390.98 215.14,391.17 212.72,393.17 213.51,396.20 210.86,394.51 208.22,396.20 209.01,393.17 206.58,391.17 209.72,390.98" fill="#fff" stroke="#3838b8" stroke-width="0.85" stroke-linejoin="miter"/>
<polygon points="221.45,377.85 222.60,380.77 225.73,380.96 223.31,382.95 224.10,385.99 221.45,384.30 218.81,385.99 219.60,382.95 217.17,380.96 220.30,380.77" fill="#fff" stroke="#3838b8" stroke-width="0.85" stroke-linejoin="miter"/>
<polygon points="232.04,367.04 233.19,369.96 236.32,370.15 233.90,372.14 234.69,375.18 232.04,373.49 229.40,375.18 230.19,372.14 227.76,370.15 230.89,369.96" fill="#fff" stroke="#3838b8" stroke-width="0.85" stroke-linejoin="miter"/>
<polygon points="242.63,355.77 243.78,358.69 246.91,358.88 244.48,360.87 245.28,363.91 242.63,362.22 239.98,363.91 240.78,360.87 238.35,358.88 241.48,358.69" fill="#fff" stroke="#3838b8" stroke-width="0.85" stroke-linejoin="miter"/>
<polygon points="253.22,344.17 254.37,347.09 257.50,347.28 255.07,349.27 255.86,352.31 253.22,350.62 250.57,352.31 251.36,349.27 248.94,347.28 252.07,347.09" fill="#fff" stroke="#3838b8" stroke-width="0.85" stroke-linejoin="miter"/>
<polygon points="263.81,332.37 264.96,335.29 268.09,335.48 265.66,337.47 266.45,340.51 263.81,338.82 261.16,340.51 261.95,337.47 259.53,335.48 262.66,335.29" fill="#fff" stroke="#3838b8" stroke-width="0.85" stroke-linejoin="miter"/>
<polygon points="274.40,320.51 275.54,323.43 278.68,323.62 276.25,325.61 277.04,328.65 274.40,326.96 271.75,328.65 272.54,325.61 270.12,323.62 273.25,323.43" fill="#fff" stroke="#3838b8" stroke-width="0.85" stroke-linejoin="miter"/>
<polygon points="284.99,308.71 286.13,311.64 289.27,311.82 286.84,313.82 287.63,316.85 284.99,315.16 282.34,316.85 283.13,313.82 280.71,311.82 283.84,311.64" fill="#fff" stroke="#3838b8" stroke-width="0.85" stroke-linejoin="miter"/>
<polygon points="295.58,297.12 296.72,300.04 299.86,300.23 297.43,302.22 298.22,305.26 295.58,303.57 292.93,305.26 293.72,302.22 291.30,300.23 294.43,300.04" fill="#fff" stroke="#3838b8" stroke-width="0.85" stroke-linejoin="miter"/>
<polygon points="306.17,285.86 307.31,288.79 310.45,288.97 308.02,290.97 308.81,294.00 306.17,292.31 303.52,294.00 304.31,290.97 301.89,288.97 305.02,288.79" fill="#fff" stroke="#3838b8" stroke-width="0.85" stroke-linejoin="miter"/>
<polygon points="316.76,275.07 317.90,277.99 321.04,278.18 318.61,280.17 319.40,283.21 316.76,281.52 314.11,283.21 314.90,280.17 312.48,278.18 315.61,277.99" fill="#fff" stroke="#3838b8" stroke-width="0.85" stroke-linejoin="miter"/>
</g>
<rect x="51.00" y="269.10" width="271.70" height="200.00" fill="none" stroke="#767676" stroke-width="1.70"/>
<path d="M51.00 469.10L51.00 473.60 M51.00 269.10L51.00 273.60 M84.96 469.10L84.96 471.70 M84.96 269.10L84.96 271.70 M118.92 469.10L118.92 473.60 M118.92 269.10L118.92 273.60 M152.89 469.10L152.89 471.70 M152.89 269.10L152.89 271.70 M186.85 469.10L186.85 473.60 M186.85 269.10L186.85 273.60 M220.81 469.10L220.81 471.70 M220.81 269.10L220.81 271.70 M254.77 469.10L254.77 473.60 M254.77 269.10L254.77 273.60 M288.74 469.10L288.74 471.70 M288.74 269.10L288.74 271.70 M322.70 469.10L322.70 473.60 M322.70 269.10L322.70 273.60 M51.00 469.10L46.50 469.10 M322.70 469.10L318.20 469.10 M51.00 449.10L48.40 449.10 M322.70 449.10L320.10 449.10 M51.00 429.10L46.50 429.10 M322.70 429.10L318.20 429.10 M51.00 409.10L48.40 409.10 M322.70 409.10L320.10 409.10 M51.00 389.10L46.50 389.10 M322.70 389.10L318.20 389.10 M51.00 369.10L48.40 369.10 M322.70 369.10L320.10 369.10 M51.00 349.10L46.50 349.10 M322.70 349.10L318.20 349.10 M51.00 329.10L48.40 329.10 M322.70 329.10L320.10 329.10 M51.00 309.10L46.50 309.10 M322.70 309.10L318.20 309.10 M51.00 289.10L48.40 289.10 M322.70 289.10L320.10 289.10 M51.00 269.10L46.50 269.10 M322.70 269.10L318.20 269.10" stroke="#686868" stroke-width="1.20" fill="none"/>
<clipPath id="clipd"><rect x="385.30" y="265.90" width="272.40" height="200.10"/></clipPath>
<g clip-path="url(#clipd)">
<circle cx="385.50" cy="464.61" r="2.75" fill="#f00000"/>
<circle cx="388.91" cy="463.80" r="2.75" fill="#f00000"/>
<circle cx="392.31" cy="463.17" r="2.75" fill="#f00000"/>
<circle cx="395.72" cy="462.76" r="2.75" fill="#f00000"/>
<circle cx="399.12" cy="462.44" r="2.75" fill="#f00000"/>
<circle cx="402.53" cy="462.12" r="2.75" fill="#f00000"/>
<circle cx="405.93" cy="461.70" r="2.75" fill="#f00000"/>
<circle cx="409.34" cy="461.08" r="2.75" fill="#f00000"/>
<circle cx="412.74" cy="460.30" r="2.75" fill="#f00000"/>
<circle cx="416.15" cy="459.48" r="2.75" fill="#f00000"/>
<circle cx="419.55" cy="458.72" r="2.75" fill="#f00000"/>
<circle cx="422.96" cy="457.99" r="2.75" fill="#f00000"/>
<circle cx="426.36" cy="457.25" r="2.75" fill="#f00000"/>
<circle cx="429.77" cy="456.51" r="2.75" fill="#f00000"/>
<circle cx="433.17" cy="455.77" r="2.75" fill="#f00000"/>
<circle cx="436.58" cy="455.03" r="2.75" fill="#f00000"/>
<circle cx="439.98" cy="454.29" r="2.75" fill="#f00000"/>
<circle cx="443.39" cy="453.52" r="2.75" fill="#f00000"/>
<circle cx="446.79" cy="452.75" r="2.75" fill="#f00000"/>
<circle cx="450.20" cy="451.96" r="2.75" fill="#f00000"/>
<circle cx="453.60" cy="451.14" r="2.75" fill="#f00000"/>
<circle cx="457.01" cy="450.23" r="2.75" fill="#f00000"/>
<circle cx="460.41" cy="449.24" r="2.75" fill="#f00000"/>
<circle cx="463.82" cy="448.18" r="2.75" fill="#f00000"/>
<circle cx="467.22" cy="447.08" r="2.75" fill="#f00000"/>
<circle cx="470.63" cy="445.95" r="2.75" fill="#f00000"/>
<circle cx="474.03" cy="444.79" r="2.75" fill="#f00000"/>
<circle cx="477.44" cy="443.53" r="2.75" fill="#f00000"/>
<circle cx="480.84" cy="442.14" r="2.75" fill="#f00000"/>
<circle cx="484.25" cy="440.48" r="2.75" fill="#f00000"/>
<circle cx="487.65" cy="438.75" r="2.75" fill="#f00000"/>
<circle cx="491.06" cy="437.21" r="2.75" fill="#f00000"/>
<circle cx="494.46" cy="435.79" r="2.75" fill="#f00000"/>
<circle cx="497.87" cy="434.30" r="2.75" fill="#f00000"/>
<circle cx="501.27" cy="432.59" r="2.75" fill="#f00000"/>
<circle cx="504.68" cy="430.71" r="2.75" fill="#f00000"/>
<circle cx="508.08" cy="428.68" r="2.75" fill="#f00000"/>
<circle cx="511.49" cy="426.46" r="2.75" fill="#f00000"/>
<circle cx="514.89" cy="424.04" r="2.75" fill="#f00000"/>
<circle cx="518.30" cy="421.51" r="2.75" fill="#f00000"/>
<circle cx="521.70" cy="418.95" r="2.75" fill="#f00000"/>
<circle cx="525.11" cy="416.28" r="2.75" fill="#f00000"/>
<circle cx="528.51" cy="413.33" r="2.75" fill="#f00000"/>
<circle cx="531.92" cy="409.89" r="2.75" fill="#f00000"/>
<circle cx="535.32" cy="406.41" r="2.75" fill="#f00000"/>
<circle cx="538.73" cy="402.68" r="2.75" fill="#f00000"/>
<circle cx="542.13" cy="399.08" r="2.75" fill="#f00000"/>
<circle cx="545.54" cy="395.19" r="2.75" fill="#f00000"/>
<circle cx="548.94" cy="390.91" r="2.75" fill="#f00000"/>
<circle cx="552.35" cy="386.67" r="2.75" fill="#f00000"/>
<circle cx="555.75" cy="381.95" r="2.75" fill="#f00000"/>
<circle cx="559.16" cy="377.41" r="2.75" fill="#f00000"/>
<circle cx="562.56" cy="372.52" r="2.75" fill="#f00000"/>
<circle cx="565.97" cy="367.44" r="2.75" fill="#f00000"/>
<circle cx="569.37" cy="361.68" r="2.75" fill="#f00000"/>
<circle cx="572.78" cy="355.15" r="2.75" fill="#f00000"/>
<circle cx="576.18" cy="349.12" r="2.75" fill="#f00000"/>
<circle cx="579.59" cy="342.82" r="2.75" fill="#f00000"/>
<circle cx="582.99" cy="335.00" r="2.75" fill="#f00000"/>
<circle cx="586.40" cy="327.64" r="2.75" fill="#f00000"/>
<circle cx="589.80" cy="319.42" r="2.75" fill="#f00000"/>
<circle cx="593.21" cy="311.26" r="2.75" fill="#f00000"/>
<circle cx="596.61" cy="301.45" r="2.75" fill="#f00000"/>
<circle cx="600.02" cy="291.58" r="2.75" fill="#f00000"/>
<circle cx="603.42" cy="281.23" r="2.75" fill="#f00000"/>
<circle cx="606.83" cy="269.80" r="2.75" fill="#f00000"/>
<polygon points="385.30,460.84 389.10,463.61 387.65,468.08 382.95,468.08 381.50,463.61" fill="#000"/>
<polygon points="392.11,459.75 395.91,462.51 394.46,466.98 389.76,466.98 388.31,462.51" fill="#000"/>
<polygon points="398.92,458.61 402.72,461.38 401.27,465.85 396.57,465.85 395.12,461.38" fill="#000"/>
<polygon points="405.73,457.43 409.53,460.20 408.08,464.67 403.38,464.67 401.93,460.20" fill="#000"/>
<polygon points="412.54,456.19 416.34,458.96 414.89,463.43 410.19,463.43 408.74,458.96" fill="#000"/>
<polygon points="419.35,454.88 423.15,457.65 421.70,462.12 417.00,462.12 415.55,457.65" fill="#000"/>
<polygon points="426.16,453.49 429.96,456.26 428.51,460.73 423.81,460.73 422.36,456.26" fill="#000"/>
<polygon points="432.97,452.01 436.77,454.77 435.32,459.25 430.62,459.25 429.17,454.77" fill="#000"/>
<polygon points="439.78,450.42 443.58,453.18 442.13,457.66 437.43,457.66 435.98,453.18" fill="#000"/>
<polygon points="446.59,448.72 450.39,451.48 448.94,455.95 444.24,455.95 442.79,451.48" fill="#000"/>
<polygon points="453.40,446.88 457.20,449.65 455.75,454.12 451.05,454.12 449.60,449.65" fill="#000"/>
<polygon points="460.21,444.91 464.01,447.67 462.56,452.14 457.86,452.14 456.41,447.67" fill="#000"/>
<polygon points="467.02,442.78 470.82,445.55 469.37,450.02 464.67,450.02 463.22,445.55" fill="#000"/>
<polygon points="473.83,440.50 477.63,443.26 476.18,447.73 471.48,447.73 470.03,443.26" fill="#000"/>
<polygon points="480.64,438.04 484.44,440.80 482.99,445.27 478.29,445.27 476.84,440.80" fill="#000"/>
<polygon points="487.45,435.39 491.25,438.15 489.80,442.62 485.10,442.62 483.65,438.15" fill="#000"/>
<polygon points="494.26,432.54 498.06,435.31 496.61,439.78 491.91,439.78 490.46,435.31" fill="#000"/>
<polygon points="501.07,429.49 504.87,432.25 503.42,436.73 498.72,436.73 497.27,432.25" fill="#000"/>
<polygon points="507.88,426.22 511.68,428.98 510.23,433.45 505.53,433.45 504.08,428.98" fill="#000"/>
<polygon points="514.69,422.71 518.49,425.47 517.04,429.94 512.34,429.94 510.89,425.47" fill="#000"/>
<polygon points="521.50,418.96 525.30,421.72 523.85,426.19 519.15,426.19 517.70,421.72" fill="#000"/>
<polygon points="528.31,414.95 532.11,417.72 530.66,422.19 525.96,422.19 524.51,417.72" fill="#000"/>
<polygon points="535.12,410.68 538.92,413.44 537.47,417.92 532.77,417.92 531.32,413.44" fill="#000"/>
<polygon points="541.93,406.13 545.73,408.89 544.28,413.36 539.58,413.36 538.13,408.89" fill="#000"/>
<polygon points="548.74,401.29 552.54,404.05 551.09,408.52 546.39,408.52 544.94,404.05" fill="#000"/>
<polygon points="555.55,396.14 559.35,398.91 557.90,403.38 553.20,403.38 551.75,398.91" fill="#000"/>
<polygon points="562.36,390.69 566.16,393.45 564.71,397.92 560.01,397.92 558.56,393.45" fill="#000"/>
<polygon points="569.17,384.90 572.97,387.67 571.52,392.14 566.82,392.14 565.37,387.67" fill="#000"/>
<polygon points="575.98,378.79 579.78,381.55 578.33,386.02 573.63,386.02 572.18,381.55" fill="#000"/>
<polygon points="582.79,372.32 586.59,375.09 585.14,379.56 580.44,379.56 578.99,375.09" fill="#000"/>
<polygon points="589.60,365.50 593.40,368.26 591.95,372.73 587.25,372.73 585.80,368.26" fill="#000"/>
<polygon points="596.41,358.30 600.21,361.06 598.76,365.54 594.06,365.54 592.61,361.06" fill="#000"/>
<polygon points="603.22,350.72 607.02,353.48 605.57,357.96 600.87,357.96 599.42,353.48" fill="#000"/>
<polygon points="610.03,342.75 613.83,345.51 612.38,349.98 607.68,349.98 606.23,345.51" fill="#000"/>
<polygon points="616.84,334.37 620.64,337.13 619.19,341.60 614.49,341.60 613.04,337.13" fill="#000"/>
<polygon points="623.65,325.57 627.45,328.33 626.00,332.81 621.30,332.81 619.85,328.33" fill="#000"/>
<polygon points="630.46,316.34 634.26,319.11 632.81,323.58 628.11,323.58 626.66,319.11" fill="#000"/>
<polygon points="637.27,306.68 641.07,309.44 639.62,313.91 634.92,313.91 633.47,309.44" fill="#000"/>
<polygon points="644.08,296.56 647.88,299.32 646.43,303.79 641.73,303.79 640.28,299.32" fill="#000"/>
<polygon points="650.89,285.97 654.69,288.74 653.24,293.21 648.54,293.21 647.09,288.74" fill="#000"/>
<polygon points="657.70,274.92 661.50,277.68 660.05,282.15 655.35,282.15 653.90,277.68" fill="#000"/>
<polygon points="385.30,459.54 386.45,462.46 389.58,462.65 387.15,464.64 387.95,467.68 385.30,465.99 382.65,467.68 383.45,464.64 381.02,462.65 384.15,462.46" fill="#fff" stroke="#3838b8" stroke-width="0.85" stroke-linejoin="miter"/>
<polygon points="398.20,457.76 399.35,460.68 402.48,460.87 400.06,462.86 400.85,465.90 398.20,464.21 395.56,465.90 396.35,462.86 393.93,460.87 397.06,460.68" fill="#fff" stroke="#3838b8" stroke-width="0.85" stroke-linejoin="miter"/>
<polygon points="411.11,455.85 412.26,458.77 415.39,458.96 412.96,460.95 413.75,463.99 411.11,462.30 408.46,463.99 409.26,460.95 406.83,458.96 409.96,458.77" fill="#fff" stroke="#3838b8" stroke-width="0.85" stroke-linejoin="miter"/>
<polygon points="424.01,453.72 425.16,456.64 428.29,456.83 425.87,458.82 426.66,461.86 424.01,460.17 421.37,461.86 422.16,458.82 419.74,456.83 422.87,456.64" fill="#fff" stroke="#3838b8" stroke-width="0.85" stroke-linejoin="miter"/>
<polygon points="436.92,451.28 438.07,454.21 441.20,454.39 438.77,456.39 439.56,459.42 436.92,457.73 434.27,459.42 435.07,456.39 432.64,454.39 435.77,454.21" fill="#fff" stroke="#3838b8" stroke-width="0.85" stroke-linejoin="miter"/>
<polygon points="449.82,448.45 450.97,451.38 454.10,451.56 451.68,453.56 452.47,456.60 449.82,454.90 447.18,456.60 447.97,453.56 445.54,451.56 448.68,451.38" fill="#fff" stroke="#3838b8" stroke-width="0.85" stroke-linejoin="miter"/>
<polygon points="462.73,445.14 463.88,448.07 467.01,448.25 464.58,450.25 465.37,453.28 462.73,451.59 460.08,453.28 460.88,450.25 458.45,448.25 461.58,448.07" fill="#fff" stroke="#3838b8" stroke-width="0.85" stroke-linejoin="miter"/>
<polygon points="475.63,441.26 476.78,444.19 479.91,444.37 477.49,446.37 478.28,449.40 475.63,447.71 472.99,449.40 473.78,446.37 471.35,444.37 474.49,444.19" fill="#fff" stroke="#3838b8" stroke-width="0.85" stroke-linejoin="miter"/>
<polygon points="488.54,436.72 489.69,439.65 492.82,439.83 490.39,441.83 491.18,444.86 488.54,443.17 485.89,444.86 486.69,441.83 484.26,439.83 487.39,439.65" fill="#fff" stroke="#3838b8" stroke-width="0.85" stroke-linejoin="miter"/>
<polygon points="501.44,431.44 502.59,434.36 505.72,434.55 503.30,436.54 504.09,439.58 501.44,437.89 498.80,439.58 499.59,436.54 497.16,434.55 500.30,434.36" fill="#fff" stroke="#3838b8" stroke-width="0.85" stroke-linejoin="miter"/>
<polygon points="514.35,425.32 515.50,428.24 518.63,428.43 516.20,430.42 516.99,433.46 514.35,431.77 511.70,433.46 512.49,430.42 510.07,428.43 513.20,428.24" fill="#fff" stroke="#3838b8" stroke-width="0.85" stroke-linejoin="miter"/>
<polygon points="527.25,418.28 528.40,421.20 531.53,421.38 529.11,423.38 529.90,426.42 527.25,424.73 524.61,426.42 525.40,423.38 522.97,421.38 526.11,421.20" fill="#fff" stroke="#3838b8" stroke-width="0.85" stroke-linejoin="miter"/>
<polygon points="540.16,410.24 541.31,413.16 544.44,413.35 542.01,415.34 542.80,418.38 540.16,416.69 537.51,418.38 538.30,415.34 535.88,413.35 539.01,413.16" fill="#fff" stroke="#3838b8" stroke-width="0.85" stroke-linejoin="miter"/>
<polygon points="553.06,401.20 554.21,404.12 557.34,404.31 554.92,406.30 555.71,409.34 553.06,407.65 550.42,409.34 551.21,406.30 548.78,404.31 551.92,404.12" fill="#fff" stroke="#3838b8" stroke-width="0.85" stroke-linejoin="miter"/>
<polygon points="565.97,391.16 567.12,394.08 570.25,394.27 567.82,396.26 568.61,399.30 565.97,397.61 563.32,399.30 564.11,396.26 561.69,394.27 564.82,394.08" fill="#fff" stroke="#3838b8" stroke-width="0.85" stroke-linejoin="miter"/>
<polygon points="578.87,380.14 580.02,383.06 583.15,383.25 580.73,385.24 581.52,388.28 578.87,386.59 576.23,388.28 577.02,385.24 574.59,383.25 577.73,383.06" fill="#fff" stroke="#3838b8" stroke-width="0.85" stroke-linejoin="miter"/>
<polygon points="591.78,368.14 592.93,371.06 596.06,371.25 593.63,373.24 594.42,376.28 591.78,374.59 589.13,376.28 589.92,373.24 587.50,371.25 590.63,371.06" fill="#fff" stroke="#3838b8" stroke-width="0.85" stroke-linejoin="miter"/>
<polygon points="604.68,355.17 605.83,358.10 608.96,358.28 606.54,360.28 607.33,363.31 604.68,361.62 602.04,363.31 602.83,360.28 600.40,358.28 603.54,358.10" fill="#fff" stroke="#3838b8" stroke-width="0.85" stroke-linejoin="miter"/>
<polygon points="617.59,341.24 618.74,344.17 621.87,344.35 619.44,346.35 620.23,349.38 617.59,347.69 614.94,349.38 615.73,346.35 613.31,344.35 616.44,344.17" fill="#fff" stroke="#3838b8" stroke-width="0.85" stroke-linejoin="miter"/>
<polygon points="630.49,326.36 631.64,329.28 634.77,329.47 632.35,331.46 633.14,334.50 630.49,332.81 627.85,334.50 628.64,331.46 626.21,329.47 629.35,329.28" fill="#fff" stroke="#3838b8" stroke-width="0.85" stroke-linejoin="miter"/>
<polygon points="643.40,310.53 644.55,313.46 647.68,313.64 645.25,315.64 646.04,318.67 643.40,316.98 640.75,318.67 641.54,315.64 639.12,313.64 642.25,313.46" fill="#fff" stroke="#3838b8" stroke-width="0.85" stroke-linejoin="miter"/>
<polygon points="656.30,293.77 657.45,296.69 660.58,296.88 658.16,298.87 658.95,301.91 656.30,300.22 653.66,301.91 654.45,298.87 652.02,296.88 655.16,296.69" fill="#fff" stroke="#3838b8" stroke-width="0.85" stroke-linejoin="miter"/>
</g>
<rect x="385.30" y="265.90" width="272.40" height="200.10" fill="none" stroke="#5c5c5c" stroke-width="1.60"/>
<path d="M385.30 466.00L385.30 461.50 M385.30 265.90L385.30 270.40 M419.35 466.00L419.35 463.40 M419.35 265.90L419.35 268.50 M453.40 466.00L453.40 461.50 M453.40 265.90L453.40 270.40 M487.45 466.00L487.45 463.40 M487.45 265.90L487.45 268.50 M521.50 466.00L521.50 461.50 M521.50 265.90L521.50 270.40 M555.55 466.00L555.55 463.40 M555.55 265.90L555.55 268.50 M589.60 466.00L589.60 461.50 M589.60 265.90L589.60 270.40 M623.65 466.00L623.65 463.40 M623.65 265.90L623.65 268.50 M657.70 466.00L657.70 461.50 M657.70 265.90L657.70 270.40 M385.30 466.00L389.80 466.00 M657.70 466.00L653.20 466.00 M385.30 445.99L387.90 445.99 M657.70 445.99L655.10 445.99 M385.30 425.98L389.80 425.98 M657.70 425.98L653.20 425.98 M385.30 405.97L387.90 405.97 M657.70 405.97L655.10 405.97 M385.30 385.96L389.80 385.96 M657.70 385.96L653.20 385.96 M385.30 365.95L387.90 365.95 M657.70 365.95L655.10 365.95 M385.30 345.94L389.80 345.94 M657.70 345.94L653.20 345.94 M385.30 325.93L387.90 325.93 M657.70 325.93L655.10 325.93 M385.30 305.92L389.80 305.92 M657.70 305.92L653.20 305.92 M385.30 285.91L387.90 285.91 M657.70 285.91L655.10 285.91 M385.30 265.90L389.80 265.90 M657.70 265.90L653.20 265.90" stroke="#3a3a3a" stroke-width="1.20" fill="none"/>
<text x="49.50" y="225.40" font-family='"Liberation Sans", sans-serif' font-size="11.40" text-anchor="middle" transform="matrix(1 0 0 1.070 0 -15.778)" >0</text>
<text x="117.58" y="225.40" font-family='"Liberation Sans", sans-serif' font-size="11.40" text-anchor="middle" transform="matrix(1 0 0 1.070 0 -15.778)" >2</text>
<text x="185.65" y="225.40" font-family='"Liberation Sans", sans-serif' font-size="11.40" text-anchor="middle" transform="matrix(1 0 0 1.070 0 -15.778)" >4</text>
<text x="253.73" y="225.40" font-family='"Liberation Sans", sans-serif' font-size="11.40" text-anchor="middle" transform="matrix(1 0 0 1.070 0 -15.778)" >6</text>
<text x="321.80" y="225.40" font-family='"Liberation Sans", sans-serif' font-size="11.40" text-anchor="middle" transform="matrix(1 0 0 1.070 0 -15.778)" >8</text>
<text x="45.00" y="214.95" font-family='"Liberation Sans", sans-serif' font-size="11.40" text-anchor="end" transform="matrix(1 0 0 1.070 0 -15.047)" >0.0</text>
<text x="45.00" y="175.01" font-family='"Liberation Sans", sans-serif' font-size="11.40" text-anchor="end" transform="matrix(1 0 0 1.070 0 -12.251)" >0.1</text>
<text x="45.00" y="135.07" font-family='"Liberation Sans", sans-serif' font-size="11.40" text-anchor="end" transform="matrix(1 0 0 1.070 0 -9.455)" >0.2</text>
<text x="45.00" y="95.13" font-family='"Liberation Sans", sans-serif' font-size="11.40" text-anchor="end" transform="matrix(1 0 0 1.070 0 -6.659)" >0.3</text>
<text x="45.00" y="55.19" font-family='"Liberation Sans", sans-serif' font-size="11.40" text-anchor="end" transform="matrix(1 0 0 1.070 0 -3.863)" >0.4</text>
<text x="45.00" y="15.25" font-family='"Liberation Sans", sans-serif' font-size="11.40" text-anchor="end" transform="matrix(1 0 0 1.070 0 -1.068)" >0.5</text>
<text x="383.50" y="223.10" font-family='"Liberation Sans", sans-serif' font-size="11.40" text-anchor="middle" transform="matrix(1 0 0 1.070 0 -15.617)" >0</text>
<text x="451.48" y="223.10" font-family='"Liberation Sans", sans-serif' font-size="11.40" text-anchor="middle" transform="matrix(1 0 0 1.070 0 -15.617)" >1</text>
<text x="519.45" y="223.10" font-family='"Liberation Sans", sans-serif' font-size="11.40" text-anchor="middle" transform="matrix(1 0 0 1.070 0 -15.617)" >2</text>
<text x="587.42" y="223.10" font-family='"Liberation Sans", sans-serif' font-size="11.40" text-anchor="middle" transform="matrix(1 0 0 1.070 0 -15.617)" >3</text>
<text x="655.40" y="223.10" font-family='"Liberation Sans", sans-serif' font-size="11.40" text-anchor="middle" transform="matrix(1 0 0 1.070 0 -15.617)" >4</text>
<text x="379.20" y="212.55" font-family='"Liberation Sans", sans-serif' font-size="11.40" text-anchor="end" transform="matrix(1 0 0 1.070 0 -14.879)" >0.0</text>
<text x="379.20" y="172.55" font-family='"Liberation Sans", sans-serif' font-size="11.40" text-anchor="end" transform="matrix(1 0 0 1.070 0 -12.079)" >0.3</text>
<text x="379.20" y="132.55" font-family='"Liberation Sans", sans-serif' font-size="11.40" text-anchor="end" transform="matrix(1 0 0 1.070 0 -9.279)" >0.6</text>
<text x="379.20" y="92.55" font-family='"Liberation Sans", sans-serif' font-size="11.40" text-anchor="end" transform="matrix(1 0 0 1.070 0 -6.479)" >0.9</text>
<text x="379.20" y="52.55" font-family='"Liberation Sans", sans-serif' font-size="11.40" text-anchor="end" transform="matrix(1 0 0 1.070 0 -3.679)" >1.2</text>
<text x="379.20" y="12.55" font-family='"Liberation Sans", sans-serif' font-size="11.40" text-anchor="end" transform="matrix(1 0 0 1.070 0 -0.879)" >1.5</text>
<text x="51.00" y="485.00" font-family='"Liberation Sans", sans-serif' font-size="11.40" text-anchor="middle" transform="matrix(1 0 0 1.070 0 -33.950)" >0</text>
<text x="118.92" y="485.00" font-family='"Liberation Sans", sans-serif' font-size="11.40" text-anchor="middle" transform="matrix(1 0 0 1.070 0 -33.950)" >2</text>
<text x="186.85" y="485.00" font-family='"Liberation Sans", sans-serif' font-size="11.40" text-anchor="middle" transform="matrix(1 0 0 1.070 0 -33.950)" >4</text>
<text x="254.77" y="485.00" font-family='"Liberation Sans", sans-serif' font-size="11.40" text-anchor="middle" transform="matrix(1 0 0 1.070 0 -33.950)" >6</text>
<text x="322.70" y="485.00" font-family='"Liberation Sans", sans-serif' font-size="11.40" text-anchor="middle" transform="matrix(1 0 0 1.070 0 -33.950)" >8</text>
<text x="44.20" y="472.35" font-family='"Liberation Sans", sans-serif' font-size="11.40" text-anchor="end" transform="matrix(1 0 0 1.070 0 -33.065)" >0.0</text>
<text x="44.20" y="432.35" font-family='"Liberation Sans", sans-serif' font-size="11.40" text-anchor="end" transform="matrix(1 0 0 1.070 0 -30.265)" >0.1</text>
<text x="44.20" y="392.35" font-family='"Liberation Sans", sans-serif' font-size="11.40" text-anchor="end" transform="matrix(1 0 0 1.070 0 -27.465)" >0.2</text>
<text x="44.20" y="352.35" font-family='"Liberation Sans", sans-serif' font-size="11.40" text-anchor="end" transform="matrix(1 0 0 1.070 0 -24.665)" >0.3</text>
<text x="44.20" y="312.35" font-family='"Liberation Sans", sans-serif' font-size="11.40" text-anchor="end" transform="matrix(1 0 0 1.070 0 -21.865)" >0.4</text>
<text x="44.20" y="272.35" font-family='"Liberation Sans", sans-serif' font-size="11.40" text-anchor="end" transform="matrix(1 0 0 1.070 0 -19.065)" >0.5</text>
<text x="385.30" y="480.20" font-family='"Liberation Sans", sans-serif' font-size="11.40" text-anchor="middle" transform="matrix(1 0 0 1.070 0 -33.614)" >0</text>
<text x="453.40" y="480.20" font-family='"Liberation Sans", sans-serif' font-size="11.40" text-anchor="middle" transform="matrix(1 0 0 1.070 0 -33.614)" >1</text>
<text x="521.50" y="480.20" font-family='"Liberation Sans", sans-serif' font-size="11.40" text-anchor="middle" transform="matrix(1 0 0 1.070 0 -33.614)" >2</text>
<text x="589.60" y="480.20" font-family='"Liberation Sans", sans-serif' font-size="11.40" text-anchor="middle" transform="matrix(1 0 0 1.070 0 -33.614)" >3</text>
<text x="657.70" y="480.20" font-family='"Liberation Sans", sans-serif' font-size="11.40" text-anchor="middle" transform="matrix(1 0 0 1.070 0 -33.614)" >4</text>
<text x="380.60" y="469.25" font-family='"Liberation Sans", sans-serif' font-size="11.40" text-anchor="end" transform="matrix(1 0 0 1.070 0 -32.848)" >0.0</text>
<text x="380.60" y="429.23" font-family='"Liberation Sans", sans-serif' font-size="11.40" text-anchor="end" transform="matrix(1 0 0 1.070 0 -30.046)" >0.3</text>
<text x="380.60" y="389.21" font-family='"Liberation Sans", sans-serif' font-size="11.40" text-anchor="end" transform="matrix(1 0 0 1.070 0 -27.245)" >0.6</text>
<text x="380.60" y="349.19" font-family='"Liberation Sans", sans-serif' font-size="11.40" text-anchor="end" transform="matrix(1 0 0 1.070 0 -24.443)" >0.9</text>
<text x="380.60" y="309.17" font-family='"Liberation Sans", sans-serif' font-size="11.40" text-anchor="end" transform="matrix(1 0 0 1.070 0 -21.642)" >1.2</text>
<text x="380.60" y="269.15" font-family='"Liberation Sans", sans-serif' font-size="11.40" text-anchor="end" transform="matrix(1 0 0 1.070 0 -18.841)" >1.5</text>
<g transform="translate(12.70 220.40) rotate(-90)"><text x="0" y="0" font-family='"Liberation Serif", serif' font-size="11.75">Dimensionless velocity of the bubble <tspan dx="0.00" font-family='"Liberation Serif", serif' font-style="italic" font-size="11.75">v</tspan><tspan font-size="7.00" dy="3.50" font-family='"Liberation Serif", serif' font-style="italic">bb</tspan><tspan dx="0.00" dy="-4.50" font-family='"Liberation Serif", serif' font-size="11.80">(<tspan font-style="italic">k</tspan>/<tspan font-style="italic">g</tspan>)</tspan><tspan dx="0.00" font-size="7.00" dy="-6.20" font-family='"Liberation Serif", serif'>1/2</tspan></text></g>
<g transform="translate(354.50 235.70) rotate(-90)"><text x="0" y="0" font-family='"Liberation Sans", sans-serif' font-size="11.60">Dimensionless velocity of the bubble <tspan dx="-0.30" font-family='"Liberation Serif", serif' font-style="italic" font-size="11.00">v</tspan><tspan font-size="6.80" dy="4.20" font-family='"Liberation Serif", serif' font-style="italic">bb</tspan><tspan dx="0.00" dy="-6.00" font-family='"Liberation Serif", serif' font-size="10.80">(<tspan font-style="italic">k</tspan>/<tspan font-style="italic">g</tspan>)</tspan><tspan dx="1.00" font-size="7.00" dy="-5.20" font-family='"Liberation Sans", sans-serif'>1/2</tspan></text></g>
<g transform="translate(11.00 473.50) rotate(-90)"><text x="0" y="0" font-family='"Liberation Serif", serif' font-size="11.75">Dimensionless velocity of the spike <tspan dx="0.00" font-family='"Liberation Serif", serif' font-style="italic" font-size="11.75">v</tspan><tspan font-size="7.00" dy="3.50" font-family='"Liberation Serif", serif' font-style="italic">sp</tspan><tspan dx="0.00" dy="-4.50" font-family='"Liberation Serif", serif' font-size="11.80">(<tspan font-style="italic">k</tspan>/<tspan font-style="italic">g</tspan>)</tspan><tspan dx="0.00" font-size="7.00" dy="-6.20" font-family='"Liberation Serif", serif'>1/2</tspan></text></g>
<g transform="translate(355.80 488.40) rotate(-90)"><text x="0" y="0" font-family='"Liberation Sans", sans-serif' font-size="11.60">Dimensionless velocity of the spike <tspan dx="-0.30" font-family='"Liberation Serif", serif' font-style="italic" font-size="11.00">v</tspan><tspan font-size="6.80" dy="4.20" font-family='"Liberation Serif", serif' font-style="italic">sp</tspan><tspan dx="0.00" dy="-6.00" font-family='"Liberation Serif", serif' font-size="10.80">(<tspan font-style="italic">k</tspan>/<tspan font-style="italic">g</tspan>)</tspan><tspan dx="1.00" font-size="7.00" dy="-5.20" font-family='"Liberation Sans", sans-serif'>1/2</tspan></text></g>
<text x="124.35" y="246.50" font-family='"Liberation Serif", serif' font-size="11.50">Dimensionless time</text>
<text x="217.40" y="246.50" font-family='"Liberation Serif", serif' font-size="11.40"><tspan font-style="italic">t</tspan>(<tspan font-style="italic">kg</tspan>)</text>
<text x="238.90" y="240.80" font-family='"Liberation Serif", serif' font-size="6.50">1/2</text>
<text x="451.30" y="244.20" font-family='"Liberation Sans", sans-serif' font-size="11.65">Dimensionless time</text>
<text x="556.30" y="244.20" font-family='"Liberation Serif", serif' font-size="11.60"><tspan font-style="italic">t</tspan>(<tspan font-style="italic">kg</tspan>)</text>
<text x="577.90" y="237.80" font-family='"Liberation Sans", sans-serif' font-size="6.60">1/2</text>
<text x="125.45" y="506.20" font-family='"Liberation Serif", serif' font-size="11.50">Dimensionless time</text>
<text x="218.50" y="506.20" font-family='"Liberation Serif", serif' font-size="11.40"><tspan font-style="italic">t</tspan>(<tspan font-style="italic">kg</tspan>)</text>
<text x="240.80" y="499.70" font-family='"Liberation Serif", serif' font-size="6.50">1/2</text>
<text x="453.20" y="500.80" font-family='"Liberation Sans", sans-serif' font-size="11.65">Dimensionless time</text>
<text x="557.80" y="500.80" font-family='"Liberation Serif", serif' font-size="11.60"><tspan font-style="italic">t</tspan>(<tspan font-style="italic">kg</tspan>)</text>
<text x="579.70" y="495.00" font-family='"Liberation Sans", sans-serif' font-size="6.60">1/2</text>
<text x="68.60" y="29.90" font-family='"Liberation Sans", sans-serif' font-size="11.60" transform="matrix(1 0 0 1.070 0 -2.093)"><tspan font-family='"Liberation Serif", serif' font-style="italic">A</tspan>=0.2</text>
<circle cx="75.60" cy="45.70" r="2.75" fill="#f00000"/>
<text x="92.90" y="49.80" font-family='"Liberation Sans", sans-serif' font-size="11.40" text-anchor="start" transform="matrix(1 0 0 1.070 0 -3.486)" >The potential</text>
<polygon points="75.60,55.70 79.40,58.46 77.95,62.94 73.25,62.94 71.80,58.46" fill="#000"/>
<text x="92.90" y="63.80" font-family='"Liberation Sans", sans-serif' font-size="11.40" text-anchor="start" transform="matrix(1 0 0 1.070 0 -4.466)" >The improved</text>
<polygon points="75.60,69.20 76.75,72.12 79.88,72.31 77.45,74.30 78.25,77.34 75.60,75.65 72.95,77.34 73.75,74.30 71.32,72.31 74.45,72.12" fill="#fff" stroke="#3838b8" stroke-width="0.85" stroke-linejoin="miter"/>
<text x="92.90" y="77.80" font-family='"Liberation Sans", sans-serif' font-size="11.40" text-anchor="start" transform="matrix(1 0 0 1.070 0 -5.446)" >Numerical simulation</text>
<text x="403.00" y="26.80" font-family='"Liberation Sans", sans-serif' font-size="11.30" transform="matrix(1 0 0 1.070 0 -1.876)"><tspan font-family='"Liberation Sans", sans-serif' font-style="italic">A</tspan>=0.8</text>
<circle cx="409.50" cy="47.20" r="2.75" fill="#f00000"/>
<text x="423.60" y="50.30" font-family='"Liberation Sans", sans-serif' font-size="9.80" text-anchor="start" transform="matrix(1 0 0 1.070 0 -3.521)" >The potential</text>
<polygon points="409.50,55.40 413.30,58.16 411.85,62.64 407.15,62.64 405.70,58.16" fill="#000"/>
<text x="423.60" y="62.50" font-family='"Liberation Sans", sans-serif' font-size="9.80" text-anchor="start" transform="matrix(1 0 0 1.070 0 -4.375)" >The improved</text>
<polygon points="409.50,67.10 410.65,70.02 413.78,70.21 411.35,72.20 412.15,75.24 409.50,73.55 406.85,75.24 407.65,72.20 405.22,70.21 408.35,70.02" fill="#fff" stroke="#3838b8" stroke-width="0.85" stroke-linejoin="miter"/>
<text x="423.60" y="74.70" font-family='"Liberation Sans", sans-serif' font-size="9.80" text-anchor="start" transform="matrix(1 0 0 1.070 0 -5.229)" >Numerical simulation</text>
<text x="74.10" y="287.40" font-family='"Liberation Sans", sans-serif' font-size="11.30" transform="matrix(1 0 0 1.070 0 -20.118)"><tspan font-family='"Liberation Sans", sans-serif' font-style="italic">A</tspan>=0.2</text>
<circle cx="80.00" cy="304.40" r="2.75" fill="#f00000"/>
<text x="94.20" y="307.80" font-family='"Liberation Sans", sans-serif' font-size="9.80" text-anchor="start" transform="matrix(1 0 0 1.070 0 -21.546)" >The potential</text>
<polygon points="80.00,312.50 83.80,315.26 82.35,319.74 77.65,319.74 76.20,315.26" fill="#000"/>
<text x="94.20" y="319.90" font-family='"Liberation Sans", sans-serif' font-size="9.80" text-anchor="start" transform="matrix(1 0 0 1.070 0 -22.393)" >The improved</text>
<polygon points="80.00,324.10 81.15,327.02 84.28,327.21 81.85,329.20 82.65,332.24 80.00,330.55 77.35,332.24 78.15,329.20 75.72,327.21 78.85,327.02" fill="#fff" stroke="#3838b8" stroke-width="0.85" stroke-linejoin="miter"/>
<text x="94.20" y="332.00" font-family='"Liberation Sans", sans-serif' font-size="9.80" text-anchor="start" transform="matrix(1 0 0 1.070 0 -23.240)" >Numerical simulation</text>
<text x="406.20" y="283.70" font-family='"Liberation Sans", sans-serif' font-size="11.30" transform="matrix(1 0 0 1.070 0 -19.859)"><tspan font-family='"Liberation Serif", serif' font-style="italic">A</tspan>=0.8</text>
<circle cx="407.90" cy="300.60" r="2.75" fill="#f00000"/>
<text x="425.30" y="304.90" font-family='"Liberation Sans", sans-serif' font-size="11.40" text-anchor="start" transform="matrix(1 0 0 1.070 0 -21.343)" >The potential</text>
<polygon points="407.90,310.80 411.70,313.56 410.25,318.04 405.55,318.04 404.10,313.56" fill="#000"/>
<text x="425.30" y="319.10" font-family='"Liberation Sans", sans-serif' font-size="11.40" text-anchor="start" transform="matrix(1 0 0 1.070 0 -22.337)" >The improved</text>
<polygon points="407.90,324.50 409.05,327.42 412.18,327.61 409.75,329.60 410.55,332.64 407.90,330.95 405.25,332.64 406.05,329.60 403.62,327.61 406.75,327.42" fill="#fff" stroke="#3838b8" stroke-width="0.85" stroke-linejoin="miter"/>
<text x="425.30" y="333.30" font-family='"Liberation Sans", sans-serif' font-size="11.40" text-anchor="start" transform="matrix(1 0 0 1.070 0 -23.331)" >Numerical simulation</text>
<text x="305.90" y="205.60" font-family='"Liberation Serif", serif' font-size="12.00" text-anchor="start" transform="matrix(1 0 0 1.070 0 -14.392)" >(a)</text>
<text x="639.70" y="203.40" font-family='"Liberation Serif", serif' font-size="12.00" text-anchor="start" transform="matrix(1 0 0 1.070 0 -14.238)" >(b)</text>
<text x="306.90" y="463.20" font-family='"Liberation Serif", serif' font-size="12.00" text-anchor="start" transform="matrix(1 0 0 1.070 0 -32.424)" >(c)</text>
<text x="640.60" y="460.10" font-family='"Liberation Serif", serif' font-size="12.00" text-anchor="start" transform="matrix(1 0 0 1.070 0 -32.207)" >(d)</text>
</svg></body></html>
